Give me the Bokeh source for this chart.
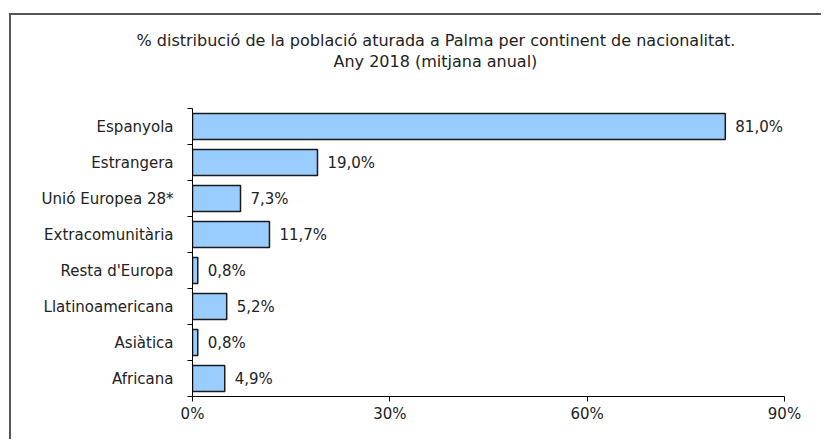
from bokeh.plotting import figure
from bokeh.models import ColumnDataSource, Range1d, FixedTicker, Title, LabelSet
from bokeh.core.properties import value
from bokeh.embed import file_html
from bokeh.resources import INLINE

# ---- data ----
categories = ["Espanyola", "Estrangera", "Unió Europea 28*", "Extracomunitària",
              "Resta d'Europa", "Llatinoamericana", "Asiàtica", "Africana"]
values = [81.0, 19.0, 7.3, 11.7, 0.8, 5.2, 0.8, 4.9]
x_ticks = [0, 30, 60, 90]
x_tick_labels = ["0%", "30%", "60%", "90%"]
title_lines = ["% distribució de la població aturada a Palma per continent de nacionalitat.",
               "Any 2018 (mitjana anual)"]

n = len(categories)
ypos = [n - 0.5 - i for i in range(n)]
labels = [("%.1f" % v).replace(".", ",") + "%" for v in values]
src = ColumnDataSource(dict(y=ypos, v=values, lab=labels, cat=categories))

FONT = "DejaVu Sans"
W, H = 812, 426
FL, FT, FR, FB = 181, 93, 773, 381   # frame edges in canvas px

p = figure(width=W, height=H, output_backend="svg", toolbar_location=None,
           x_range=Range1d(0, 90), y_range=Range1d(0, n),
           min_border_left=FL, min_border_right=W - FR, min_border_top=FT,
           min_border_bottom=H - FB)
p.outline_line_color = None
p.xgrid.grid_line_color = None
p.ygrid.grid_line_color = None
p.background_fill_color = "white"
p.border_fill_color = "white"
p.styles = {"border-left": "2px solid #555555", "border-top": "2px solid #555555",
            "margin-top": "13px", "margin-left": "9px", "overflow": "hidden"}

p.hbar(y="y", right="v", left=0, height=0.72, source=src,
       fill_color="#99CCFF", line_color="#1a1a1a", line_width=1.5)

p.add_layout(LabelSet(x="v", y="y", text="lab", source=src, x_offset=10,
                      text_baseline="middle", text_align="left",
                      text_font=value(FONT), text_font_size="15px", text_color="#222222"))

# x axis
xa = p.xaxis[0]
xa.ticker = FixedTicker(ticks=x_ticks)
xa.major_label_overrides = {t: l for t, l in zip(x_ticks, x_tick_labels)}
xa.major_tick_out = 5
xa.major_tick_in = 0
xa.minor_tick_line_color = None
xa.axis_line_color = "black"
xa.major_tick_line_color = "black"
xa.major_label_text_font = FONT
xa.major_label_text_font_size = "15px"
xa.major_label_text_color = "#222222"
xa.major_label_standoff = 3

# y axis: labels at centers, ticks at boundaries
ya = p.yaxis[0]
ya.ticker = FixedTicker(ticks=ypos, minor_ticks=list(range(n + 1)))
ya.major_label_overrides = {y: c for y, c in zip(ypos, categories)}
ya.major_tick_line_color = None
ya.minor_tick_out = 5
ya.minor_tick_in = 0
ya.minor_tick_line_color = "black"
ya.axis_line_color = "black"
ya.major_label_text_font = FONT
ya.major_label_text_font_size = "15px"
ya.major_label_text_color = "#222222"
ya.major_label_standoff = 13

# title: two lines (first added sits closest to the frame)
p.add_layout(Title(text=title_lines[1], align="left", offset=141, standoff=0,
                   padding=dict(top=0, right=0, bottom=38, left=0),
                   text_font=FONT, text_font_size="16px", text_font_style="normal",
                   text_color="#222222"), "above")
p.add_layout(Title(text=title_lines[0], align="left", offset=-56, standoff=0,
                   text_font=FONT, text_font_size="16px", text_font_style="normal",
                   text_color="#222222"), "above")

open("out.html", "w").write(file_html(p, INLINE))
